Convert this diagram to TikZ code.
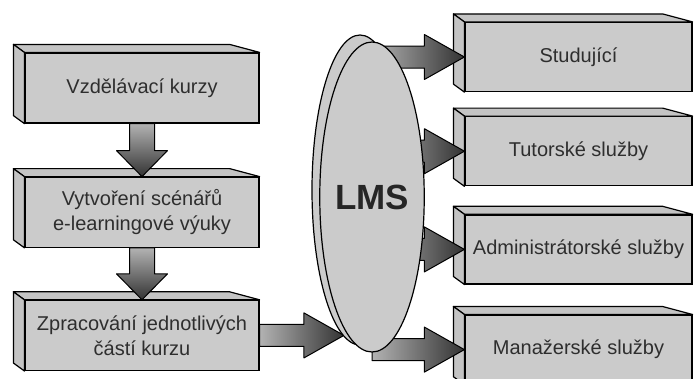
\documentclass[tikz,border=0pt]{standalone}
\usepackage{fontspec}
\setmainfont{Liberation Sans}
\usetikzlibrary{positioning,calc,shapes.geometric}

\definecolor{boxgray}{HTML}{CBCBCB}
\definecolor{sidegray}{HTML}{C4C4C4}
\definecolor{textgray}{HTML}{2E2E2E}

\pgfdeclarelayer{front}
\pgfsetlayers{main,front}

\tikzset{
  box/.style={draw, rectangle, fill=boxgray, line width=1.2pt, minimum width=234pt,
    minimum height=70pt, inner sep=0pt, align=center, text=textgray,
    font=\fontsize{20}{25}\selectfont},
  rbox/.style={box, minimum width=227pt, minimum height=69pt},
  face/.style={draw, fill=sidegray, line width=1.2pt, line join=round},
  harr/.style={draw=black, line width=1pt, line join=round, left color=black!30, right color=black!80},
  varr/.style={draw=black, line width=1pt, line join=round, top color=black!30, bottom color=black!80},
  lmsell/.style={draw, ellipse, fill=boxgray, line width=1.2pt, minimum width=96pt,
    minimum height=310pt, inner sep=0pt},
}

% top and left face of a box
\newcommand{\boxface}[1]{%
  \draw[face] (#1.north west) -- ++(-11,-8) -- ($(#1.north east)+(-30,-8)$) -- (#1.north east) -- cycle;
  \draw[face] (#1.north west) -- ++(-11,-8) -- ($(#1.south west)+(-11,-8)$) -- (#1.south west) -- cycle;}

% block arrows: #1 start, #2 tip
\newcommand{\harrow}[2]{%
  \path[harr] let \p1=#1, \p2=#2 in
    (\x1,\y2+11pt) -- (\x2-40pt,\y2+11pt) -- (\x2-40pt,\y2+22.5pt) -- (\x2,\y2)
    -- (\x2-40pt,\y2-22.5pt) -- (\x2-40pt,\y2-11pt) -- (\x1,\y2-11pt) -- cycle;}
\newcommand{\varrow}[2]{%
  \path[varr] let \p1=#1, \p2=#2 in
    (\x2-12.5pt,\y1) -- (\x2-12.5pt,\y2+26pt) -- (\x2-25.5pt,\y2+26pt) -- (\x2,\y2)
    -- (\x2+25.5pt,\y2+26pt) -- (\x2+12.5pt,\y2+26pt) -- (\x2+12.5pt,\y1) -- cycle;}

\begin{document}
\begin{tikzpicture}[x=1pt, y=-1pt]
    \useasboundingbox (0,0) rectangle (694,378);

    % left column
    \node [box] (b1) at (142,88) {Vzdělávací kurzy};
    \node [box, below=53pt of b1] (b2) {Vytvoření scénářů\\e-learningové výuky};
    \node [box, below=52pt of b2] (b3) {Zpracování jednotlivých\\částí kurzu};
    \boxface{b1}
    \boxface{b2}
    \boxface{b3}

    % right column
    \node [rbox] (r1) at (578.5,57) {Studující};
    \node [rbox, below=24pt of r1] (r2) {Tutorské služby};
    \node [rbox, below=28pt of r2] (r3) {Administrátorské služby};
    \node [rbox, below=30pt of r3] (r4) {Manažerské služby};
    \boxface{r1}
    \boxface{r2}
    \boxface{r3}
    \boxface{r4}

    % LMS
    \begin{pgfonlayer}{front}
        \node [lmsell] (lmsback) at (360,190) {};
        \node [lmsell, font=\fontsize{35}{35}\selectfont\bfseries, text=black!85] (lms) at (372,197) {LMS};
    \end{pgfonlayer}

    % arrows
    \varrow{(b1.south)}{(b2.north)}
    \varrow{(b2.south)}{(b3.north)}
    \harrow{(b3.east)}{(b3.east -| lms.258)}
    \harrow{(lms.center)}{(r1.west)}
    \harrow{(lms.center)}{(r2.west)}
    \harrow{(lms.center)}{(r3.west)}
    \harrow{(lms.center)}{(r4.west)}
\end{tikzpicture}
\end{document}
